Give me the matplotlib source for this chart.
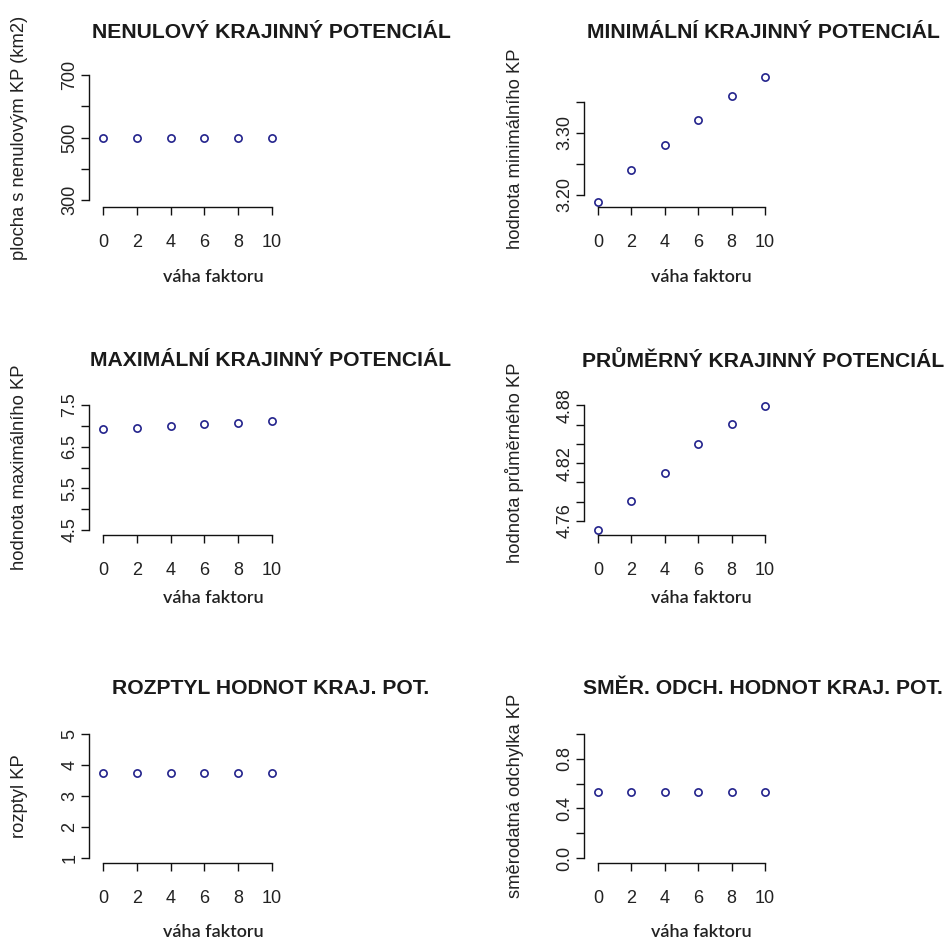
import matplotlib
matplotlib.use('Agg')
import matplotlib.pyplot as plt

# =============================================================================
# Data
# =============================================================================

vaha = [0, 2, 4, 6, 8, 10]

nenulovy = [497, 497, 497, 497, 497, 497]
minimalni = [3.189, 3.240, 3.281, 3.321, 3.359, 3.391]
maximalni = [6.92, 6.96, 7.00, 7.04, 7.08, 7.12]
prumerny = [4.751, 4.781, 4.810, 4.840, 4.861, 4.879]
rozptyl = [3.73, 3.73, 3.73, 3.73, 3.73, 3.73]
smer_odch = [0.535, 0.535, 0.535, 0.535, 0.535, 0.535]

titles = ['NENULOVÝ KRAJINNÝ POTENCIÁL', 'MINIMÁLNÍ KRAJINNÝ POTENCIÁL',
          'MAXIMÁLNÍ KRAJINNÝ POTENCIÁL', 'PRŮMĚRNÝ KRAJINNÝ POTENCIÁL',
          'ROZPTYL HODNOT KRAJ. POT.', 'SMĚR. ODCH. HODNOT KRAJ. POT.']
ylabels = ['plocha s nenulovým KP (km2)', 'hodnota minimálního KP',
           'hodnota maximálního KP', 'hodnota průměrného KP',
           'rozptyl KP', 'směrodatná odchylka KP']
xlabel = 'váha faktoru'

yticks = [[300, 400, 500, 600, 700],
          [3.20, 3.25, 3.30, 3.35],
          [4.5, 5.0, 5.5, 6.0, 6.5, 7.0, 7.5],
          [4.76, 4.78, 4.80, 4.82, 4.84, 4.86, 4.88],
          [1, 2, 3, 4, 5],
          [0.0, 0.2, 0.4, 0.6, 0.8, 1.0]]
yticklabels = [['300', '', '500', '', '700'],
               ['3.20', '', '3.30', ''],
               ['4.5', '', '5.5', '', '6.5', '', '7.5'],
               ['4.76', '', '', '4.82', '', '', '4.88'],
               ['1', '2', '3', '4', '5'],
               ['0.0', '', '0.4', '', '0.8', '']]
ylims = [(277.6, 716), (3.1806, 3.4016), (4.38, 7.668),
         (4.7455, 4.8876), (0.839, 5.258), (-0.0403, 1.0645)]
series = [nenulovy, minimalni, maximalni, prumerny, rozptyl, smer_odch]

# =============================================================================
# Layout (pixels)
# =============================================================================

W, H = 951, 942
col_left = [89, 584]          # y-axis line
col_zero = [103, 598]         # x = 0
col_ten = [272, 765]          # x = 10
row_top = [70, 398, 726]
row_bottom = [207, 535, 863]
title_x = [271, 763]
title_y = [32, 361, 688]
xlab_x = [213, 701]
xlab_dy = [70, 63, 69]
ylab_x = [20, 515]

pt_color = '#23238c'

fig = plt.figure(figsize=(W / 100, H / 100), dpi=100)

for i in range(6):
    r, c = i // 2, i % 2
    ppu = (col_ten[c] - col_zero[c]) / 10.0
    xmin = -(col_zero[c] - col_left[c]) / ppu
    xmax = 10.4
    left = col_left[c]
    right = col_zero[c] + xmax * ppu
    ax = fig.add_axes([left / W, 1 - row_bottom[r] / H,
                       (right - left) / W, (row_bottom[r] - row_top[r]) / H])
    ax.set_xlim(xmin, xmax)
    ax.set_ylim(*ylims[i])
    ax.set_facecolor('none')

    ax.plot(vaha, series[i], 'o', mfc='none', mec=pt_color, ms=5.2, mew=1.2,
            clip_on=False)

    for s in ['top', 'right']:
        ax.spines[s].set_visible(False)
    ax.spines['left'].set_bounds(yticks[i][0], yticks[i][-1])
    ax.spines['bottom'].set_bounds(0, 10)
    for s in ['left', 'bottom']:
        ax.spines[s].set_linewidth(1.0)
        ax.spines[s].set_color('#111111')

    ax.set_xticks(vaha)
    ax.set_xticklabels([str(v) for v in vaha])
    ax.set_yticks(yticks[i])
    ax.set_yticklabels(yticklabels[i], rotation=90, va='center')
    ax.tick_params(axis='both', direction='out', length=5.5, width=1.0,
                   color='#111111', labelsize=13, labelcolor='#222222')
    ax.tick_params(axis='x', pad=14)
    ax.tick_params(axis='y', pad=2)
    for lab in ax.get_xticklabels() + ax.get_yticklabels():
        lab.set_fontfamily('Liberation Sans')

    fig.text(title_x[c] / W, 1 - title_y[r] / H, titles[i], ha='center',
             va='center', fontsize=15.2, fontweight='bold',
             family='Liberation Sans', color='#1a1a1a')
    ycen = ax.transData.transform((0, (yticks[i][0] + yticks[i][-1]) / 2.0))[1]
    fig.text(ylab_x[c] / W, ycen / H, ylabels[i], rotation=90, ha='center',
             va='center', fontsize=13.2, family='Liberation Sans',
             color='#222222')
    fig.text(xlab_x[c] / W, 1 - (row_bottom[r] + xlab_dy[r]) / H, xlabel,
             ha='center', va='center', fontsize=13, family='Lato',
             fontweight='semibold', color='#222222')

plt.savefig('out.png', dpi=100)
